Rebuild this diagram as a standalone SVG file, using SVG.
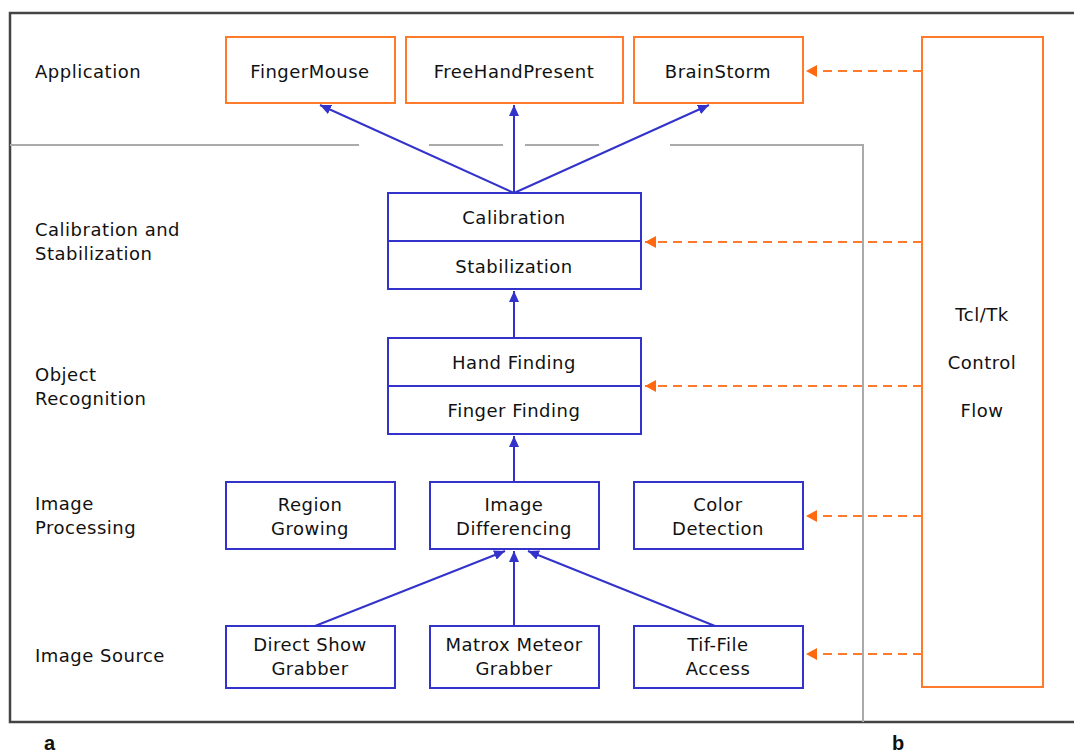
<svg xmlns="http://www.w3.org/2000/svg" width="1074" height="753" viewBox="0 0 1074 753">
<style>
text{font-family:"DejaVu Sans","Liberation Sans",sans-serif;font-size:18px;fill:#111;letter-spacing:0.5px}
.c{text-anchor:middle}
.ob{fill:#fff;stroke:#ff7a2a;stroke-width:2}
.bb{fill:#fff;stroke:#3333cc;stroke-width:2}
.bl{stroke:#3333cc;stroke-width:2;fill:none}
.ol{stroke:#ff7a2a;stroke-width:2;fill:none;stroke-dasharray:9,6}
.gl{stroke:#aaaaaa;stroke-width:2;fill:none}
.lbl{font-family:"Liberation Sans",Arial,sans-serif;font-weight:bold;font-size:20px;letter-spacing:0}
</style>
<defs>
<marker id="ab" markerUnits="userSpaceOnUse" markerWidth="12" markerHeight="10" refX="11" refY="5" orient="auto"><path d="M0,0 L11,5 L0,10 z" fill="#3333cc"/></marker>
<marker id="ao" markerUnits="userSpaceOnUse" markerWidth="12" markerHeight="12" refX="11" refY="6" orient="auto"><path d="M0,0 L11,6 L0,12 z" fill="#ff6a10"/></marker>
</defs>
<g id="frame">
<path d="M1074,13 H10 V722 H1074" fill="none" stroke="#444" stroke-width="2.5"/>
<path class="gl" d="M10,145 H359 M429,145 H503 M525,145 H599 M670,145 H863 V722"/>
</g>
<g id="labels">
<text x="35" y="78">Application</text>
<text x="35" y="236">Calibration and</text>
<text x="35" y="260">Stabilization</text>
<text x="35" y="381">Object</text>
<text x="35" y="405">Recognition</text>
<text x="35" y="510">Image</text>
<text x="35" y="534">Processing</text>
<text x="35" y="662">Image Source</text>
<text class="lbl" x="44" y="750">a</text>
<text class="lbl" x="892" y="750">b</text>
</g>
<g id="fingermouse"><rect class="ob" x="226" y="37" width="169" height="66"/><text class="c" x="310" y="78">FingerMouse</text></g>
<g id="freehandpresent"><rect class="ob" x="406" y="37" width="217" height="66"/><text class="c" x="514" y="78">FreeHandPresent</text></g>
<g id="brainstorm"><rect class="ob" x="634" y="37" width="169" height="66"/><text class="c" x="718" y="78">BrainStorm</text></g>
<g id="tcltk"><rect class="ob" x="922" y="37" width="121" height="650"/>
<text class="c" x="982" y="321">Tcl/Tk</text><text class="c" x="982" y="369">Control</text><text class="c" x="982" y="417">Flow</text></g>
<g id="calibration"><rect class="bb" x="388" y="193" width="253" height="96"/><line class="bl" x1="388" y1="241" x2="641" y2="241"/>
<text class="c" x="514" y="224">Calibration</text><text class="c" x="514" y="273">Stabilization</text></g>
<g id="handfinding"><rect class="bb" x="388" y="338" width="253" height="96"/><line class="bl" x1="388" y1="386" x2="641" y2="386"/>
<text class="c" x="514" y="369">Hand Finding</text><text class="c" x="514" y="417">Finger Finding</text></g>
<g id="regiongrowing"><rect class="bb" x="226" y="482" width="169" height="67"/><text class="c" x="310" y="511">Region</text><text class="c" x="310" y="535">Growing</text></g>
<g id="imagediff"><rect class="bb" x="430" y="482" width="169" height="67"/><text class="c" x="514" y="511">Image</text><text class="c" x="514" y="535">Differencing</text></g>
<g id="colordetection"><rect class="bb" x="634" y="482" width="169" height="67"/><text class="c" x="718" y="511">Color</text><text class="c" x="718" y="535">Detection</text></g>
<g id="directshow"><rect class="bb" x="226" y="626" width="169" height="62"/><text class="c" x="310" y="651">Direct Show</text><text class="c" x="310" y="675">Grabber</text></g>
<g id="matrox"><rect class="bb" x="430" y="626" width="169" height="62"/><text class="c" x="514" y="651">Matrox Meteor</text><text class="c" x="514" y="675">Grabber</text></g>
<g id="tiffile"><rect class="bb" x="634" y="626" width="169" height="62"/><text class="c" x="718" y="651">Tif-File</text><text class="c" x="718" y="675">Access</text></g>
<g id="connectors">
<line class="bl" x1="514" y1="193" x2="320" y2="105" marker-end="url(#ab)"/>
<line class="bl" x1="514" y1="193" x2="514" y2="105" marker-end="url(#ab)"/>
<line class="bl" x1="514" y1="193" x2="709" y2="105" marker-end="url(#ab)"/>
<line class="bl" x1="514" y1="338" x2="514" y2="291" marker-end="url(#ab)"/>
<line class="bl" x1="514" y1="482" x2="514" y2="436" marker-end="url(#ab)"/>
<line class="bl" x1="315" y1="626" x2="505" y2="551" marker-end="url(#ab)"/>
<line class="bl" x1="514" y1="626" x2="514" y2="551" marker-end="url(#ab)"/>
<line class="bl" x1="715" y1="626" x2="528" y2="551" marker-end="url(#ab)"/>
<line class="ol" x1="922" y1="71" x2="806" y2="71" marker-end="url(#ao)"/>
<line class="ol" x1="922" y1="242" x2="645" y2="242" marker-end="url(#ao)"/>
<line class="ol" x1="922" y1="386" x2="645" y2="386" marker-end="url(#ao)"/>
<line class="ol" x1="922" y1="516" x2="806" y2="516" marker-end="url(#ao)"/>
<line class="ol" x1="922" y1="654" x2="806" y2="654" marker-end="url(#ao)"/>
</g>
</svg>
